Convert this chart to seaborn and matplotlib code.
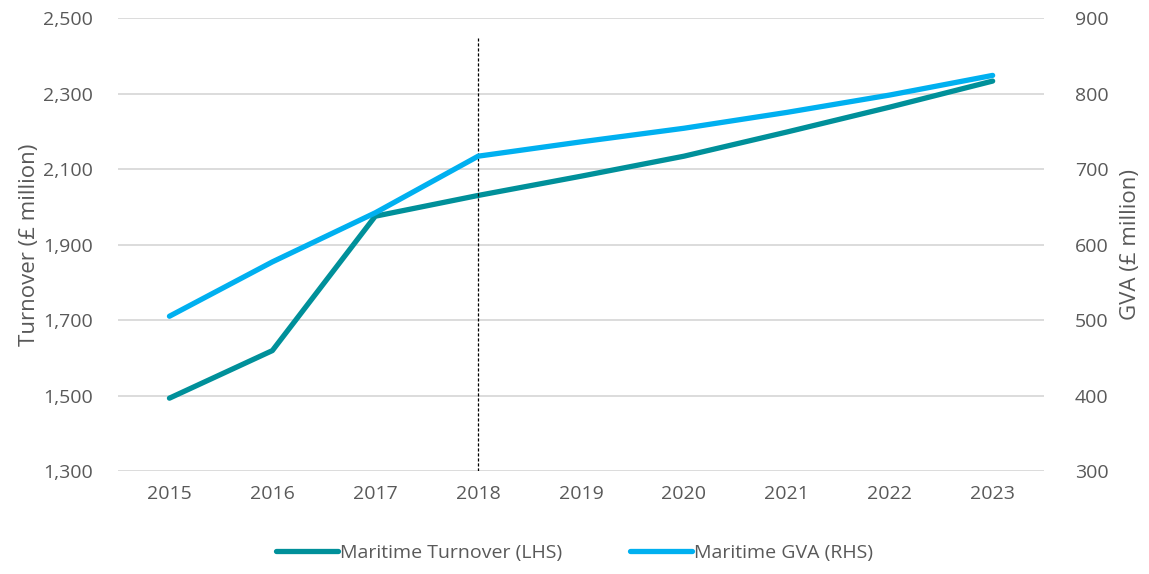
import pandas as pd
import numpy as np
import matplotlib.pyplot as plt
import seaborn as sns
from matplotlib.ticker import FuncFormatter

# dados
anos = ['2015', '2016', '2017', '2018', '2019', '2020', '2021', '2022', '2023']
turnover = [1493, 1619, 1975, 2030, 2081, 2134, 2198, 2264, 2333]
gva = [505, 577, 642, 717, 736, 754, 775, 798, 824]

df = pd.DataFrame({'ano': anos, 'pos': range(len(anos)), 'turnover': turnover, 'gva': gva})

sns.set_style('white')
plt.rcParams['font.family'] = ['Open Sans', 'DejaVu Sans']
cinza = '#595959'

fig = plt.figure(figsize=(11.49, 5.74), dpi=100)
ax = fig.add_axes([0.1027, 0.1794, 0.806, 0.7892])
ax2 = ax.twinx()

sns.lineplot(data=df, x='pos', y='turnover', ax=ax, color='#00909A', linewidth=3.8,
             label='Maritime Turnover (LHS)', legend=False, solid_capstyle='round')
sns.lineplot(data=df, x='pos', y='gva', ax=ax2, color='#00B0F0', linewidth=3.8,
             label='Maritime GVA (RHS)', legend=False, solid_capstyle='round')

ax.set_xlim(-0.5, len(anos) - 0.5)
ax.set_ylim(1300, 2500)
ax2.set_ylim(300, 900)
ax.set_yticks(np.arange(1300, 2501, 200))
ax2.set_yticks(np.arange(300, 901, 100))
ax.yaxis.set_major_formatter(FuncFormatter(lambda v, p: f'{int(v):,}'))
ax.set_xticks(df['pos'])
ax.set_xticklabels(anos)

ax.grid(axis='y', color='#D9D9D9', linewidth=1.3)
ax.set_axisbelow(True)
for a in (ax, ax2):
    for s in a.spines.values():
        s.set_visible(False)
    a.tick_params(length=0, labelsize=14, colors=cinza)
ax.tick_params(axis='x', pad=10)
ax.tick_params(axis='y', pad=18)
ax2.tick_params(axis='y', pad=22)

ax.set_xlabel('')
ax.set_ylabel('Turnover (£ million)', fontsize=16, color=cinza, labelpad=2)
ax2.set_ylabel('GVA (£ million)', fontsize=16, color=cinza, labelpad=8)

# linha tracejada em 2018
ax.axvline(3, ymin=0, ymax=0.956, color='black', linestyle=(0, (2.5, 1.5)), linewidth=0.9)

h1, l1 = ax.get_legend_handles_labels()
h2, l2 = ax2.get_legend_handles_labels()
fig.legend(h1 + h2, l1 + l2, loc='center', bbox_to_anchor=(0.5, 0.037), ncol=2,
           frameon=False, fontsize=14, labelcolor=cinza, handlelength=3.2,
           handletextpad=0.1, columnspacing=3.5)

plt.savefig('out.png', dpi=100)
